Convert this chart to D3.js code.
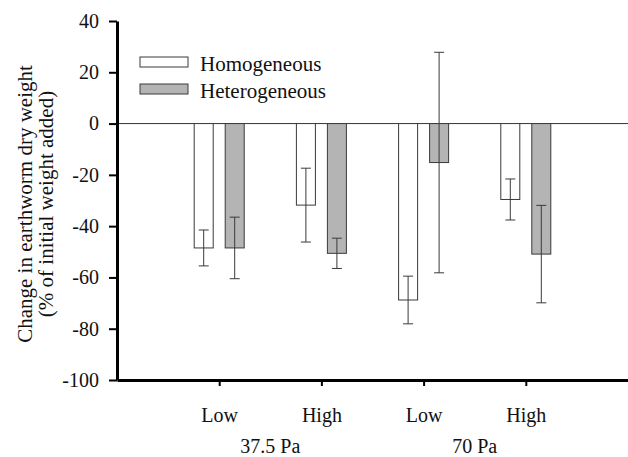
<!DOCTYPE html>
<html>
<head>
<meta charset="utf-8">
<script src="https://cdn.jsdelivr.net/npm/d3@7"></script>
<style>
  body { margin: 0; background: #fff; }
  svg text { font-family: 'Liberation Serif', 'Times New Roman', serif; fill: #111; }
</style>
</head>
<body>
<div id="graf"></div>
<script>
// values
const levels = ['Low', 'High', 'Low', 'High']
const pressures = ['37.5 Pa', '70 Pa']
const series = ['Homogeneous', 'Heterogeneous']
const homMean = [-48.5, -31.8, -68.8, -29.6]
const homErr = [7.0, 14.4, 9.3, 8.0]
const hetMean = [-48.5, -50.6, -15.2, -50.9]
const hetErr = [12.0, 5.9, 43.0, 19.0]
const yTicks = [-100, -80, -60, -40, -20, 0, 20, 40]

const anchoTotal = 628
const altoTotal = 457

const svg = d3.select('#graf')
  .append('svg')
  .attr('width', anchoTotal)
  .attr('height', altoTotal)

const margin = { top: 21, bottom: 77, left: 117, right: 0 }
const ancho = anchoTotal - margin.left - margin.right
const alto = altoTotal - margin.top - margin.bottom

const g = svg.append('g')
  .attr('transform', `translate(${margin.left}, ${margin.top})`)

const y = d3.scaleLinear().domain([-100, 40]).range([alto, 0])
// slots 0..5, categories on 1..4
const x = d3.scaleLinear().domain([0, 5]).range([0, ancho])

const barW = 19
const gap = 6
const colores = ['#ffffff', '#b4b4b4']
const trazo = '#3a3a3a'

// zero line
g.append('line')
  .attr('x1', 0).attr('x2', ancho)
  .attr('y1', y(0)).attr('y2', y(0))
  .attr('stroke', '#333').attr('stroke-width', 1)

const datos = []
levels.forEach((lv, i) => {
  datos.push({ i, s: 0, v: homMean[i], e: homErr[i] })
  datos.push({ i, s: 1, v: hetMean[i], e: hetErr[i] })
})
const xBar = d => d.s === 0 ? x(d.i + 1) - gap - barW : x(d.i + 1) + gap

g.selectAll('rect.bar').data(datos).enter()
  .append('rect')
  .attr('class', 'bar')
  .attr('x', d => xBar(d))
  .attr('y', d => y(Math.max(0, d.v)))
  .attr('width', barW)
  .attr('height', d => Math.abs(y(d.v) - y(0)))
  .attr('fill', d => colores[d.s])
  .attr('stroke', trazo)
  .attr('stroke-width', 1)

// error bars
const eb = g.selectAll('g.err').data(datos).enter().append('g').attr('class', 'err')
  .attr('stroke', trazo).attr('stroke-width', 1)
const cx = d => xBar(d) + barW / 2
eb.append('line')
  .attr('x1', cx).attr('x2', cx)
  .attr('y1', d => y(d.v + d.e)).attr('y2', d => y(d.v - d.e))
eb.append('line')
  .attr('x1', d => cx(d) - 5).attr('x2', d => cx(d) + 5)
  .attr('y1', d => y(d.v + d.e)).attr('y2', d => y(d.v + d.e))
eb.append('line')
  .attr('x1', d => cx(d) - 5).attr('x2', d => cx(d) + 5)
  .attr('y1', d => y(d.v - d.e)).attr('y2', d => y(d.v - d.e))

// axes
const yAxisGroup = g.append('g')
  .call(d3.axisLeft(y).tickValues(yTicks).tickSize(8).tickPadding(10).tickSizeOuter(0)
    .tickFormat(d => String(d)))
yAxisGroup.select('.domain').attr('stroke', '#000').attr('stroke-width', 3)
yAxisGroup.selectAll('.tick line').attr('stroke', '#000').attr('stroke-width', 2)
yAxisGroup.selectAll('text').attr('font-size', 20).attr('fill', '#111')

const xAxisGroup = g.append('g')
  .attr('transform', `translate(0, ${alto})`)
  .call(d3.axisBottom(x).tickValues([1, 2, 3, 4]).tickSize(6).tickPadding(22).tickSizeOuter(0)
    .tickFormat(d => levels[d - 1]))
xAxisGroup.select('.domain').attr('stroke', '#000').attr('stroke-width', 3)
xAxisGroup.selectAll('.tick line').attr('stroke', '#000').attr('stroke-width', 2)
xAxisGroup.selectAll('text').attr('font-size', 20).attr('fill', '#111')

// pressure labels
g.selectAll('text.grupo').data(pressures).enter()
  .append('text')
  .attr('class', 'grupo')
  .attr('x', (d, k) => x(1.5 + 2 * k))
  .attr('y', alto + 73)
  .attr('text-anchor', 'middle')
  .attr('font-size', 20)
  .text(d => d)

// y title
const titulo = svg.append('text')
  .attr('transform', 'translate(32, 204) rotate(-90)')
  .attr('text-anchor', 'middle')
  .attr('font-size', 21)
titulo.append('tspan').attr('x', 0).attr('y', 0).text('Change in earthworm dry weight')
titulo.append('tspan').attr('x', 0).attr('y', 21).text('(% of initial weight added)')

// legend
const leyenda = svg.append('g').attr('transform', 'translate(140, 57)')
series.forEach((s, k) => {
  leyenda.append('rect')
    .attr('x', 0).attr('y', k * 27)
    .attr('width', 48).attr('height', 10)
    .attr('fill', colores[k]).attr('stroke', trazo).attr('stroke-width', 1)
  leyenda.append('text')
    .attr('x', 60).attr('y', k * 27 + 13.5)
    .attr('font-size', 21)
    .text(s)
})
</script>
</body>
</html>
